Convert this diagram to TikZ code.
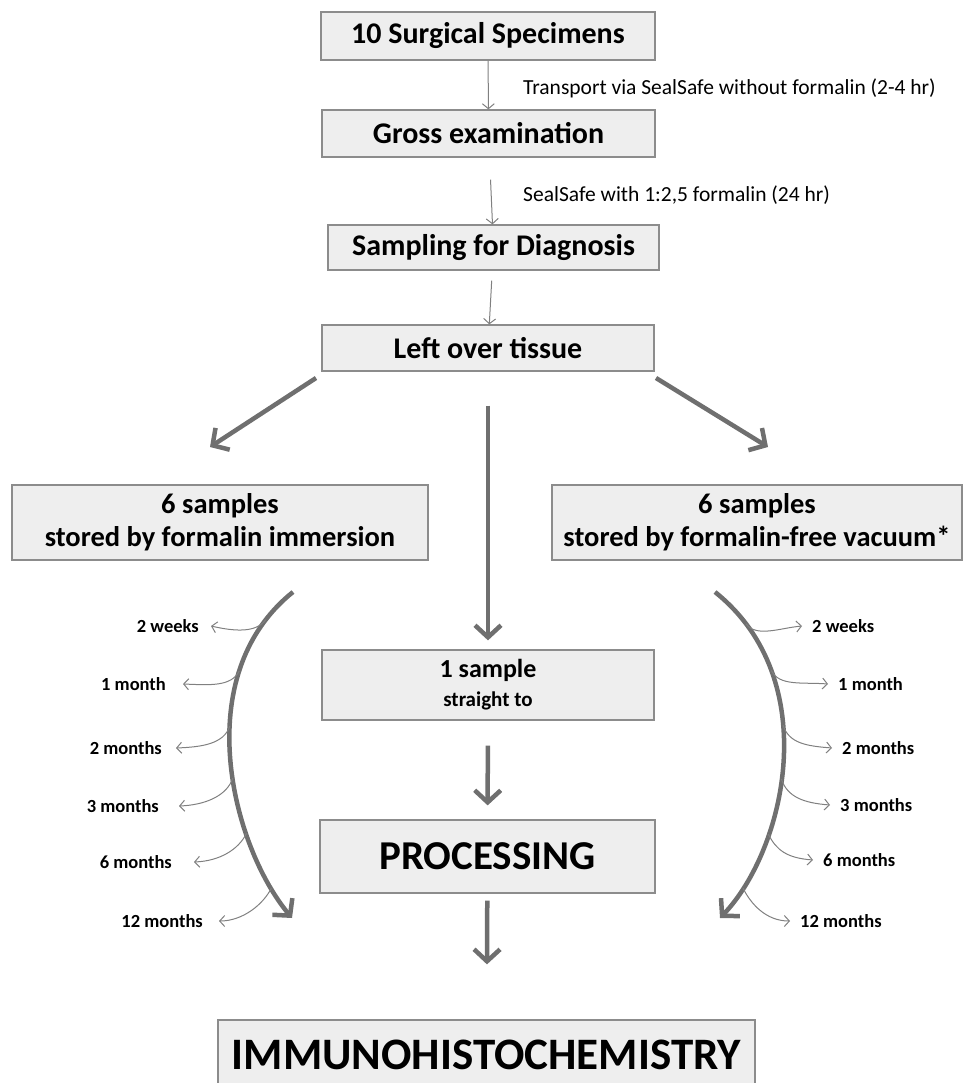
\documentclass[tikz,border=0pt]{standalone}
\usepackage{fontspec}
\setmainfont{Carlito}
\usepackage{tikz}
\usetikzlibrary{calc}
\usetikzlibrary{arrows.meta}

\definecolor{boxfill}{HTML}{EEEEEE}
\definecolor{boxline}{HTML}{8C8C8C}
\definecolor{arrgray}{HTML}{6F6F6F}
\definecolor{thingray}{HTML}{808080}
\newcommand{\fsz}[2]{\fontsize{#1}{#2}\selectfont}

\begin{document}
\begin{tikzpicture}[x=1pt,y=-1pt,
        box/.style={draw=boxline,line width=1.3pt,fill=boxfill,font=\bfseries,align=center,inner sep=0pt},
        thinarr/.style={draw=thingray,line width=1pt,-{Straight Barb[length=5pt,width=12pt]}},
        thickarr/.style={draw=arrgray,line width=4.5pt,-{Straight Barb[length=12pt,width=26pt]}},
        branch/.style={draw=thingray,line width=1pt,-{Straight Barb[length=5pt,width=11pt]}},
        monthl/.style={font=\bfseries\fsz{18.5}{22},inner xsep=12pt,inner ysep=0pt}]
        \useasboundingbox (0,0) rectangle (964,1083);

        % main column
        \node[box,font=\bfseries\fsz{30}{34},minimum width=334pt,minimum height=48pt] (spec) at (488,36) {10 Surgical Specimens};
        \node[box,font=\bfseries\fsz{30}{34},minimum width=333pt,minimum height=47pt] (gross) at (488.5,133.5) {Gross examination};
        \node[box,font=\bfseries\fsz{30}{34},minimum width=331pt,minimum height=45pt] (diag) at (493.5,247.5) {Sampling for Diagnosis};
        \node[box,font=\bfseries\fsz{30}{34},minimum width=332pt,minimum height=46pt] (tissue) at (488,348) {Left over tissue};
        \node[box,font=\bfseries\fsz{28.5}{33},minimum width=416pt,minimum height=75pt] (immer) at (220,522.5) {6 samples\\stored by formalin immersion};
        \node[box,font=\bfseries\fsz{28.5}{33},minimum width=410pt,minimum height=75pt] (vacuum) at (757,522.5) {6 samples\\stored by formalin-free vacuum*};
        \node[box,font=\bfseries\fsz{21}{29},minimum width=332pt,minimum height=70pt] (single) at (488,685) {{\fsz{26}{30}1 sample}\\straight to};
        \node[box,font=\bfseries\fsz{41}{46},minimum width=335pt,minimum height=73pt] (proc) at (487.5,856.5) {PROCESSING};
        \node[box,font=\bfseries\fsz{45}{50},minimum width=537pt,minimum height=70pt] (ihc) at (486.5,1055) {IMMUNOHISTOCHEMISTRY};

        \node[anchor=west,inner sep=0pt,font=\fsz{21.5}{25}] (transp) at (523,88) {Transport via SealSafe without formalin (2-4 hr)};
        \node[anchor=west,inner sep=0pt,font=\fsz{21.5}{25}] (fix) at (523,195) {SealSafe with 1:2,5 formalin (24 hr)};

        \draw[thinarr] (spec) -- (gross);
        \draw[thinarr,shorten <=22pt] (gross) -- (diag);
        \draw[thinarr,shorten <=10pt] (diag) -- (tissue);

        \coordinate (ls) at (316,378);
        \coordinate (le) at (210,447);
        \coordinate (rs) at (656,378);
        \coordinate (re) at (768,447);
        \draw[thickarr] (ls) -- (le);
        \draw[thickarr] (rs) -- (re);
        \draw[thickarr,shorten <=34pt,shorten >=9pt] (tissue) -- (single);
        \draw[thickarr,shorten <=25pt,shorten >=14pt] (single) -- (proc);
        \draw[thickarr,shorten <=7pt,shorten >=55pt] (proc) -- (ihc);

        % storage times, left
        \draw[thickarr] (293,592) .. controls (188,676) and (232,846) .. (292,918)
            coordinate[pos=0.10] (l1) coordinate[pos=0.258] (l2) coordinate[pos=0.41] (l3)
            coordinate[pos=0.55] (l4) coordinate[pos=0.705] (l5) coordinate[pos=0.88] (l6);
        \node[monthl,anchor=east] (lw2) at (211,626) {2 weeks};
        \node[monthl,anchor=east,inner xsep=17pt] (lm1) at (183,684) {1 month};
        \node[monthl,anchor=east,inner xsep=14pt] (lm2) at (176,748) {2 months};
        \node[monthl,anchor=east,inner xsep=20pt] (lm3) at (179,806) {3 months};
        \node[monthl,anchor=east,inner xsep=22pt] (lm6) at (194,862) {6 months};
        \node[monthl,anchor=east,inner xsep=16pt] (lm12) at (219,921) {12 months};
        \draw[branch] (l1) .. controls +(-10,14) and +(22,5) .. (lw2.east);
        \draw[branch] (l2) .. controls +(-8,16) and +(26,1) .. (lm1.east);
        \draw[branch] (l3) .. controls +(-6,18) and +(26,-1) .. (lm2.east);
        \draw[branch] (l4) .. controls +(-6,18) and +(26,-1) .. (lm3.east);
        \draw[branch] (l5) .. controls +(-8,16) and +(26,-1) .. (lm6.east);
        \draw[branch] (l6) .. controls +(-8,16) and +(24,0) .. (lm12.east);

        % storage times, right
        \draw[thickarr] (715,592) .. controls (825,680) and (785,850) .. (720,918)
            coordinate[pos=0.11] (r1) coordinate[pos=0.25] (r2) coordinate[pos=0.40] (r3)
            coordinate[pos=0.545] (r4) coordinate[pos=0.70] (r5) coordinate[pos=0.875] (r6);
        \node[monthl,anchor=west,inner xsep=10pt] (rw2) at (802,626) {2 weeks};
        \node[monthl,anchor=west,inner xsep=10pt] (rm1) at (828,684) {1 month};
        \node[monthl,anchor=west,inner xsep=10pt] (rm2) at (832,748) {2 months};
        \node[monthl,anchor=west,inner xsep=10pt] (rm3) at (830,805) {3 months};
        \node[monthl,anchor=west,inner xsep=10pt] (rm6) at (813,860) {6 months};
        \node[monthl,anchor=west,inner xsep=10pt] (rm12) at (790,921) {12 months};
        \draw[branch] (r1) .. controls +(10,14) and +(-22,2) .. (rw2.west);
        \draw[branch] (r2) .. controls +(8,16) and +(-26,-2) .. (rm1.west);
        \draw[branch] (r3) .. controls +(6,18) and +(-26,-2) .. (rm2.west);
        \draw[branch] (r4) .. controls +(6,18) and +(-26,-2) .. (rm3.west);
        \draw[branch] (r5) .. controls +(8,16) and +(-26,-2) .. (rm6.west);
        \draw[branch] (r6) .. controls +(8,16) and +(-24,0) .. (rm12.west);
\end{tikzpicture}
\end{document}
